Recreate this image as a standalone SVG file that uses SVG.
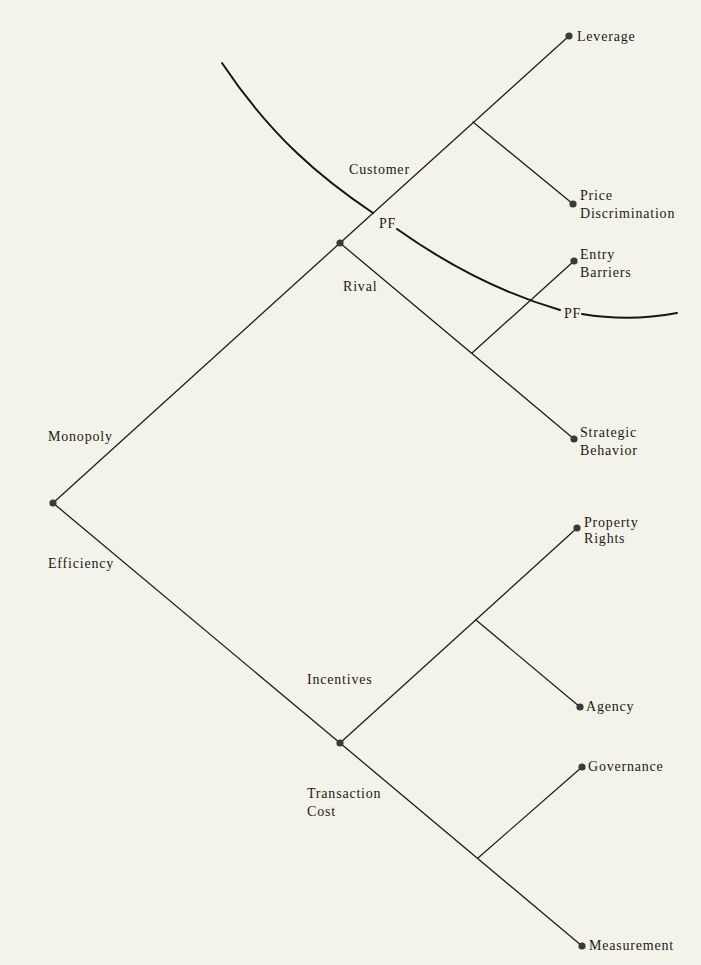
<svg xmlns="http://www.w3.org/2000/svg" width="701" height="965" viewBox="0 0 701 965">
  <style>
    .bg { fill: #f3f3e9; }
    .edge { stroke: #1e1e1e; stroke-width: 1.3; fill: none; stroke-linecap: round; }
    .pf { stroke: #151515; stroke-width: 2; fill: none; stroke-linecap: round; }
    .dot { fill: #3a3a3a; }
    .lbl { font-family: "Liberation Serif", "Times New Roman", serif; font-size: 14px; letter-spacing: 0.8px; fill: #1a1a1a; }
  </style>
  <rect class="bg" x="0" y="0" width="701" height="965"/>

  <!-- branches of the tree -->
  <g id="connectors">
    <!-- root to the two main branches -->
    <line class="edge" x1="53" y1="503" x2="340" y2="243"/>
    <line class="edge" x1="53" y1="503" x2="340" y2="743"/>
    <!-- monopoly: customer / rival -->
    <line class="edge" x1="340" y1="243" x2="569" y2="36"/>
    <line class="edge" x1="473" y1="122" x2="573" y2="204"/>
    <line class="edge" x1="340" y1="243" x2="574" y2="439"/>
    <line class="edge" x1="472" y1="353" x2="574" y2="261"/>
    <!-- efficiency: incentives / transaction cost -->
    <line class="edge" x1="340" y1="743" x2="577" y2="528"/>
    <line class="edge" x1="476" y1="620" x2="580" y2="707"/>
    <line class="edge" x1="340" y1="743" x2="582" y2="946"/>
    <line class="edge" x1="478" y1="858" x2="582" y2="767"/>
  </g>

  <!-- production frontier curves -->
  <g id="frontier">
    <path class="pf" d="M222,63 C272,138 323,179.5 373,213"/>
    <path class="pf" d="M397,229 C452,268 505,294 560,310"/>
    <path class="pf" d="M582,314 Q630,322 677,313"/>
    <text class="lbl" x="379" y="228">PF</text>
    <text class="lbl" x="564" y="318">PF</text>
  </g>

  <g id="root">
    <circle class="dot" cx="53" cy="503" r="3.6"/>
    <text class="lbl" x="48" y="441">Monopoly</text>
    <text class="lbl" x="48" y="568">Efficiency</text>
  </g>

  <g id="monopoly">
    <circle class="dot" cx="340" cy="243" r="3.6"/>
    <text class="lbl" x="349" y="174">Customer</text>
    <text class="lbl" x="343" y="291">Rival</text>
  </g>

  <g id="efficiency">
    <circle class="dot" cx="340" cy="743" r="3.6"/>
    <text class="lbl" x="307" y="684">Incentives</text>
    <text class="lbl" x="307" y="798">Transaction</text>
    <text class="lbl" x="307" y="816">Cost</text>
  </g>

  <g id="leverage">
    <circle class="dot" cx="569" cy="36" r="3.6"/>
    <text class="lbl" x="577" y="41">Leverage</text>
  </g>

  <g id="price-discrimination">
    <circle class="dot" cx="573" cy="204" r="3.6"/>
    <text class="lbl" x="580" y="200">Price</text>
    <text class="lbl" x="580" y="218">Discrimination</text>
  </g>

  <g id="entry-barriers">
    <circle class="dot" cx="574" cy="261" r="3.6"/>
    <text class="lbl" x="580" y="259">Entry</text>
    <text class="lbl" x="580" y="277">Barriers</text>
  </g>

  <g id="strategic-behavior">
    <circle class="dot" cx="574" cy="439" r="3.6"/>
    <text class="lbl" x="580" y="437">Strategic</text>
    <text class="lbl" x="580" y="455">Behavior</text>
  </g>

  <g id="property-rights">
    <circle class="dot" cx="577" cy="528" r="3.6"/>
    <text class="lbl" x="584" y="527">Property</text>
    <text class="lbl" x="584" y="543">Rights</text>
  </g>

  <g id="agency">
    <circle class="dot" cx="580" cy="707" r="3.6"/>
    <text class="lbl" x="586" y="711">Agency</text>
  </g>

  <g id="governance">
    <circle class="dot" cx="582" cy="767" r="3.6"/>
    <text class="lbl" x="588" y="771">Governance</text>
  </g>

  <g id="measurement">
    <circle class="dot" cx="582" cy="946" r="3.6"/>
    <text class="lbl" x="589" y="950">Measurement</text>
  </g>
</svg>
